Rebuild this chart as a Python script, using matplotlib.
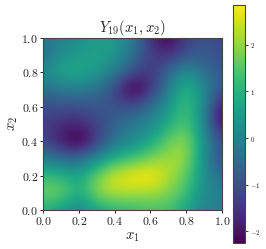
import numpy as np
import matplotlib
matplotlib.use("Agg")
import matplotlib.pyplot as plt

plt.rcParams['mathtext.fontset'] = 'cm'

# field values, rows from x2=1.0 down to x2=0.0, columns x1=0.0 to 1.0
row_10 = [-0.3, 0.0, 0.2, 0.6, 0.5, -0.1, -1.5, -2.5, -1.2, -1.0, -1.2]
row_09 = [-0.5, 0.3, 0.5, 0.7, 0.5, -0.3, -1.3, -1.6, -1.0, -0.8, -1.0]
row_08 = [0.1, 0.8, 0.9, 0.5, -0.1, -1.0, -1.5, -0.6, 0.4, -0.4, -0.9]
row_07 = [-0.3, -0.2, -0.1, -0.3, -1.1, -2.7, -1.6, -0.1, 1.2, 0.2, -0.9]
row_06 = [-1.1, -1.0, -1.0, -0.9, -1.0, -1.0, -0.4, 0.4, 1.4, 0.2, -2.2]
row_05 = [-1.3, -1.6, -1.7, -1.2, -0.6, -0.2, 0.1, 0.9, 1.5, 0.1, -2.3]
row_04 = [-1.2, -1.9, -2.7, -1.4, -0.3, 0.2, 0.7, 1.6, 2.1, 0.3, -1.0]
row_03 = [-0.1, -0.5, -0.5, 0.2, 0.9, 1.3, 1.8, 2.2, 2.1, 0.2, -1.2]
row_02 = [1.2, 1.1, 0.6, 1.7, 2.6, 2.85, 2.95, 2.3, 1.6, 0.3, -0.5]
row_01 = [1.8, 1.8, 0.8, 2.0, 2.3, 2.2, 2.2, 1.9, 1.3, 0.2, -0.1]
row_00 = [0.9, 0.5, 0.0, 0.6, 1.0, 1.1, 1.3, 1.3, 0.7, -0.1, 0.0]
ticks = [0.0, 0.2, 0.4, 0.6, 0.8, 1.0]
cbar_ticks = [-2, -1, 0, 1, 2]

Z = np.array([row_10, row_09, row_08, row_07, row_06, row_05, row_04, row_03, row_02, row_01, row_00])

W, H = 266, 249
fig = plt.figure(figsize=(W / 100, H / 100), dpi=100)
ax = fig.add_axes([43 / W, 1 - 210 / H, 179 / W, 172 / H])
# pixel centres sit on the 0.1 grid
im = ax.imshow(Z, extent=[-0.05, 1.05, -0.05, 1.05], cmap='viridis', interpolation='bicubic',
               vmin=-2.25, vmax=2.85, aspect='auto')
ax.set_xlim(0, 1)
ax.set_ylim(0, 1)
labels = ['$%.1f$' % t for t in ticks]
ax.set_xticks(ticks, labels)
ax.set_yticks(ticks, labels)
ax.tick_params(labelsize=8.5, length=2, width=0.6, pad=1.5, labelcolor='#222222')
ax.set_xlabel('$x_1$', fontsize=10.5, labelpad=1, color='#222222')
ax.set_ylabel('$x_2$', fontsize=10.5, labelpad=1, color='#222222')
ax.set_title('$Y_{19}(x_1, x_2)$', fontsize=10.5, pad=3, color='#222222')
for s in ax.spines.values():
    s.set_color('#444444')

cax = fig.add_axes([233 / W, 1 - 243 / H, 12 / W, 238 / H])
cb = fig.colorbar(im, cax=cax)
cb.set_ticks(cbar_ticks, labels=['$%d$' % t for t in cbar_ticks])
cb.ax.tick_params(labelsize=5, length=2, width=0.5, pad=1.5, labelcolor='#222222')
cb.outline.set_edgecolor('#444444')

fig.savefig('out.png', dpi=100)
